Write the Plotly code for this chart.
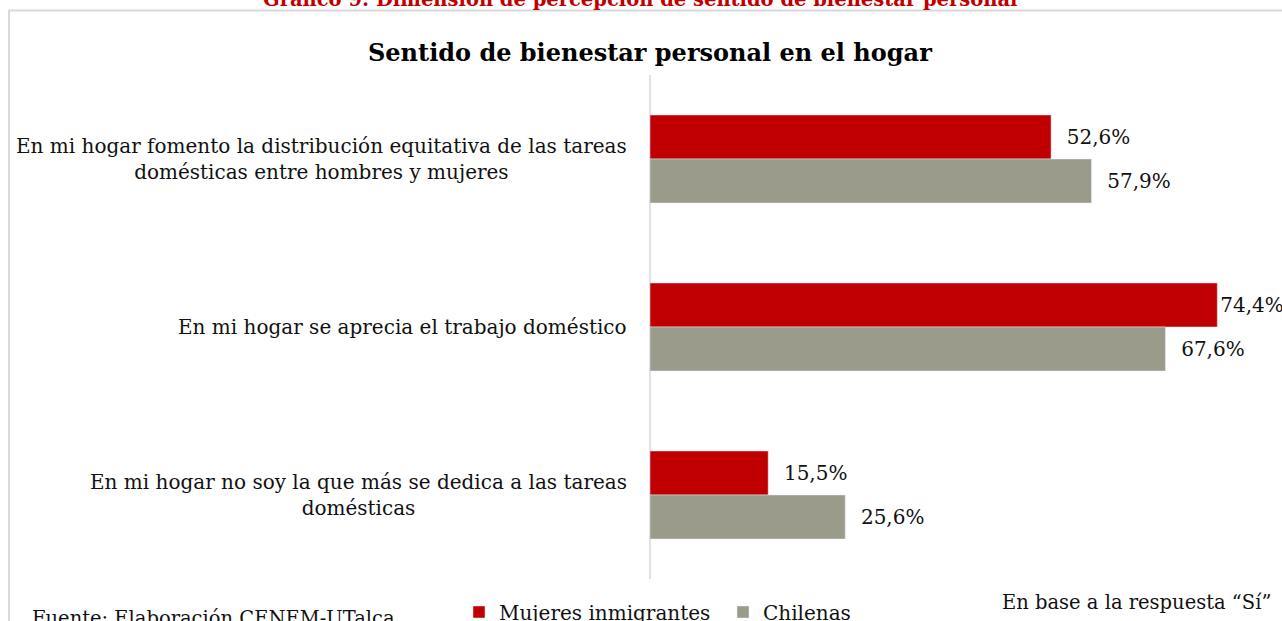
import plotly.graph_objects as go

CATEGORIES = [
    "En mi hogar fomento la distribución equitativa de las tareas<br>domésticas entre hombres y mujeres",
    "En mi hogar se aprecia el trabajo doméstico",
    "En mi hogar no soy la que más se dedica a las tareas<br>domésticas",
]
CATEGORY_KEYS = ["c1", "c2", "c3"]
INMIGRANTES = [52.6, 74.4, 15.5]
CHILENAS = [57.9, 67.6, 25.6]
SERIES_NAMES = ["Mujeres inmigrantes", "Chilenas"]

RED = "#c00000"
GRAY = "#9b9b8b"
FONT = "DejaVu Serif"
W, H = 1282, 621


def pct(v):
    return f"{v:.1f}".replace(".", ",") + "%"


def px_x(p):
    return p / W


def px_y(p):
    return 1 - p / H


def make_text(values):
    out = []
    for v in values:
        # big bar's label sits tight against the bar like in the original
        pad = "" if v > 70 else "\u00a0\u00a0"
        out.append(pad + pct(v))
    return out


fig = go.Figure()
fig.add_trace(go.Bar(
    name=SERIES_NAMES[0], y=CATEGORY_KEYS, x=INMIGRANTES, orientation="h",
    marker=dict(color=RED), text=make_text(INMIGRANTES), textposition="outside",
    textfont=dict(family=FONT, size=20, color="#111"), cliponaxis=False,
))
fig.add_trace(go.Bar(
    name=SERIES_NAMES[1], y=CATEGORY_KEYS, x=CHILENAS, orientation="h",
    marker=dict(color=GRAY), text=make_text(CHILENAS), textposition="outside",
    textfont=dict(family=FONT, size=20, color="#111"), cliponaxis=False,
))

annotations = []
for key, label in zip(CATEGORY_KEYS, CATEGORIES):
    annotations.append(dict(
        text=label, xref="paper", x=px_x(629), xanchor="right", yref="y", y=key,
        align="center", showarrow=False, font=dict(family=FONT, size=20, color="#111"),
    ))

annotations += [
    dict(text="<b>Gráfico 9: Dimensión de percepción de sentido de bienestar personal</b>",
         xref="paper", yref="paper", x=px_x(640), y=px_y(-0.5), yanchor="middle",
         showarrow=False, font=dict(family=FONT, size=19.5, color=RED)),
    dict(text="<b>Sentido de bienestar personal en el hogar</b>",
         xref="paper", yref="paper", x=px_x(650), y=px_y(52), yanchor="middle",
         showarrow=False, font=dict(family=FONT, size=24, color="#000")),
    dict(text="Fuente: Elaboración CENEM-UTalca",
         xref="paper", yref="paper", x=px_x(30), xanchor="left", y=px_y(618), yanchor="middle",
         showarrow=False, font=dict(family=FONT, size=19.5, color="#111")),
    dict(text="En base a la respuesta “Sí”",
         xref="paper", yref="paper", x=px_x(1273), xanchor="right", y=px_y(602), yanchor="middle",
         showarrow=False, font=dict(family=FONT, size=19.5, color="#111")),
]

fig.update_layout(
    width=W, height=H,
    margin=dict(l=0, r=0, t=0, b=0, autoexpand=False),
    paper_bgcolor="white", plot_bgcolor="white",
    barmode="group", bargap=0.476, bargroupgap=0,
    font=dict(family=FONT, size=20, color="#111"),
    xaxis=dict(domain=[px_x(650), px_x(1260)], range=[0, 80], visible=False),
    yaxis=dict(domain=[px_y(579), px_y(75)], autorange="reversed",
               showticklabels=False, showgrid=False, zeroline=False,
               showline=False, ticks=""),
    showlegend=True,
    legend=dict(orientation="h", x=px_x(459), xanchor="left", y=px_y(612), yanchor="middle",
                font=dict(family=FONT, size=20, color="#111"), traceorder="normal",
                entrywidth=219, entrywidthmode="pixels", bgcolor="rgba(0,0,0,0)"),
    annotations=annotations,
    shapes=[
        dict(type="rect", xref="paper", yref="paper", x0=px_x(9), x1=px_x(1300),
             y0=px_y(640), y1=px_y(10.5), line=dict(color="#d9d9d9", width=2), layer="below"),
        dict(type="line", xref="paper", yref="paper", x0=px_x(650), x1=px_x(650),
             y0=px_y(579), y1=px_y(75), line=dict(color="#d9d9d9", width=1.5), layer="below"),
    ],
)

# the page's default body margin would push the chart 8px off the frame
fig.write_html("out.html", config={"displayModeBar": False},
               post_script="document.body.style.margin='0';")
